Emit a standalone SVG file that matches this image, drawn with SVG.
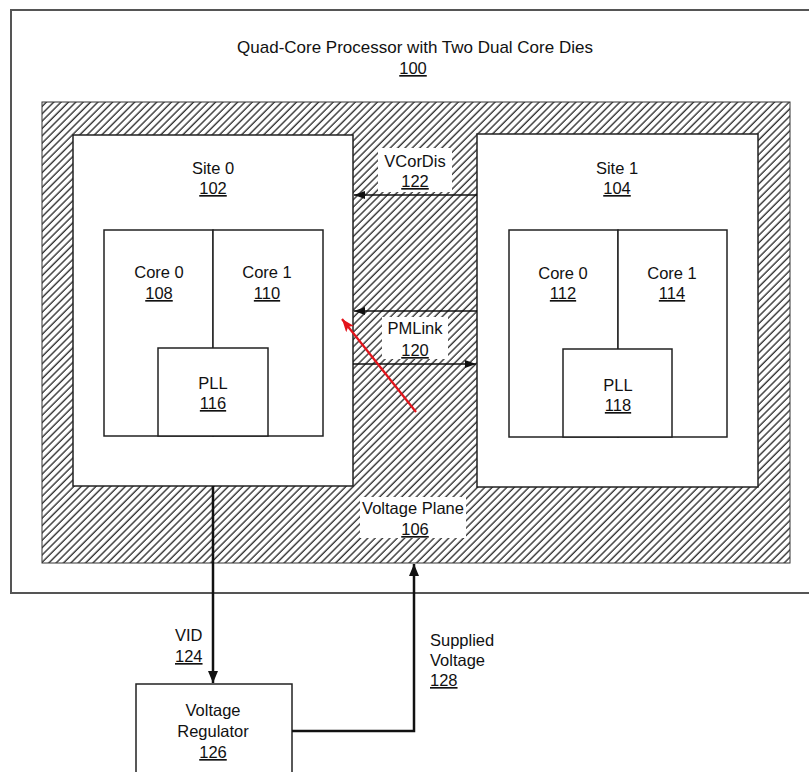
<svg xmlns="http://www.w3.org/2000/svg" width="809" height="772" viewBox="0 0 809 772">
<style>
text{font-family:"Liberation Sans",Arial,sans-serif;font-size:16.5px;fill:#111;text-anchor:middle}
.num{text-decoration:underline}
.lft{text-anchor:start}
.box{fill:#fff;stroke:#222;stroke-width:1.5}
.thin{stroke:#111;stroke-width:1.5;fill:none}
.thick{stroke:#111;stroke-width:2.5;fill:none}
</style>
<defs>
<pattern id="hatch" width="5.2" height="5.2" patternUnits="userSpaceOnUse" patternTransform="rotate(45)">
<line x1="1" y1="0" x2="1" y2="5.2" stroke="#111" stroke-width="1.2"/>
</pattern>
<marker id="ah" markerUnits="userSpaceOnUse" markerWidth="11" markerHeight="8" refX="11" refY="4" orient="auto">
<path d="M0,0 L11,4 L0,8 z" fill="#111"/>
</marker>
<marker id="ahb" markerUnits="userSpaceOnUse" markerWidth="12" markerHeight="10" refX="12" refY="5" orient="auto">
<path d="M0,0 L12,5 L0,10 z" fill="#111"/>
</marker>
<marker id="ahr" markerUnits="userSpaceOnUse" markerWidth="14" markerHeight="10" refX="13" refY="5" orient="auto">
<path d="M0,0 L13,5 L0,10 L3,5 z" fill="#e3141b"/>
</marker>
</defs>
<rect width="809" height="772" fill="#fff"/>
<g id="processor">
<rect x="11" y="10" width="820" height="583" fill="#fff" stroke="#555" stroke-width="2"/>
<text x="415" y="53" style="font-size:17px">Quad-Core Processor with Two Dual Core Dies</text>
<text x="413" y="74" class="num">100</text>
</g>
<g id="voltage-plane">
<rect x="42" y="102" width="748" height="461" fill="url(#hatch)" stroke="#333" stroke-width="1"/>
<rect x="360" y="497" width="106" height="41" fill="#fff"/>
<text x="413" y="514">Voltage Plane</text>
<text x="415" y="535" class="num">106</text>
</g>
<g id="site0">
<rect x="73" y="135" width="280" height="351" class="box"/>
<text x="213" y="174">Site 0</text>
<text x="213" y="194" class="num">102</text>
</g>
<g id="core0-108">
<rect x="104" y="230" width="109" height="206" class="box"/>
<text x="159" y="278">Core 0</text>
<text x="159" y="299" class="num">108</text>
</g>
<g id="core1-110">
<rect x="213" y="230" width="110" height="206" class="box"/>
<text x="267" y="278">Core 1</text>
<text x="267" y="299" class="num">110</text>
</g>
<g id="pll116">
<rect x="158" y="348" width="110" height="88" class="box"/>
<text x="213" y="389">PLL</text>
<text x="213" y="409" class="num">116</text>
</g>
<g id="site1">
<rect x="477" y="134" width="281" height="353" class="box"/>
<text x="617" y="174">Site 1</text>
<text x="617" y="194" class="num">104</text>
</g>
<g id="core0-112">
<rect x="509" y="230" width="109" height="207" class="box"/>
<text x="563" y="279">Core 0</text>
<text x="563" y="299" class="num">112</text>
</g>
<g id="core1-114">
<rect x="618" y="230" width="109" height="207" class="box"/>
<text x="672" y="279">Core 1</text>
<text x="672" y="299" class="num">114</text>
</g>
<g id="pll118">
<rect x="563" y="349" width="109" height="88" class="box"/>
<text x="618" y="391">PLL</text>
<text x="618" y="411" class="num">118</text>
</g>
<g id="regulator">
<rect x="136" y="684" width="156" height="100" class="box"/>
<text x="213" y="716">Voltage</text>
<text x="213" y="737">Regulator</text>
<text x="213" y="758" class="num">126</text>
</g>
<g id="connectors">
<rect x="378" y="148" width="74" height="44" fill="#fff"/>
<text x="415" y="167">VCorDis</text>
<text x="415" y="187" class="num">122</text>
<line x1="477" y1="195" x2="354" y2="195" class="thin" marker-end="url(#ah)"/>
<rect x="382" y="317" width="66" height="42" fill="#fff"/>
<text x="415" y="334">PMLink</text>
<text x="415" y="356" class="num">120</text>
<line x1="477" y1="311" x2="354" y2="311" class="thin" marker-end="url(#ah)"/>
<line x1="353" y1="364" x2="476" y2="364" class="thin" marker-end="url(#ah)"/>
<line x1="416" y1="412" x2="342" y2="319" stroke="#e3141b" stroke-width="2.2" marker-end="url(#ahr)"/>
<line x1="213" y1="486" x2="213" y2="683" class="thick" marker-end="url(#ahb)"/>
<text x="175" y="641" class="lft">VID</text>
<text x="175" y="662" class="lft num">124</text>
<polyline points="292,731 414,731 414,564" class="thick" marker-end="url(#ahb)"/>
<text x="430" y="646" class="lft">Supplied</text>
<text x="430" y="666" class="lft">Voltage</text>
<text x="430" y="686" class="lft num">128</text>
</g>
</svg>
